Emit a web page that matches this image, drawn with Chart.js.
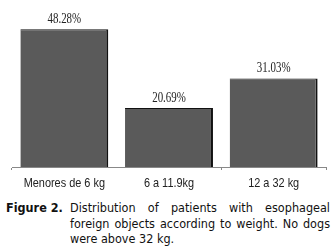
<!DOCTYPE html>
<html>
<head>
<meta charset="utf-8">
<script src="https://cdn.jsdelivr.net/npm/chart.js@4"></script>
<style>
  body { margin: 0; background: #fff; width: 335px; height: 250px; overflow: hidden; position: relative; }
  #wrap { position: absolute; left: 0; top: 0; width: 335px; height: 200px; }
  #caption { position: absolute; left: 6px; top: 200px; width: 324px; font-family: "DejaVu Sans Condensed", "DejaVu Sans", sans-serif; font-size: 12.5px; line-height: 15.5px; color: #111; }
  #caption .fig { position: absolute; left: 0; top: 0; font-weight: bold; }
  #caption .txt { margin-left: 64px; }
  #caption .line { text-align: justify; text-align-last: justify; white-space: nowrap; }
  #caption .last { text-align: left; }
</style>
</head>
<body>
<div id="wrap"><canvas id="chart" width="335" height="200"></canvas></div>
<div id="caption">
  <span class="fig">Figure 2.</span>
  <div class="txt">
    <div class="line">Distribution of patients with esophageal</div>
    <div class="line">foreign objects according to weight. No dogs</div>
    <div class="last">were above 32 kg.</div>
  </div>
</div>
<script>
// weight groups and share of patients (%)
const categories = ["Menores de 6 kg", "6 a 11.9kg", "12 a 32 kg"];
const percentValues = [48.28, 20.69, 31.03];
const valueLabels = ["48.28%", "20.69%", "31.03%"];

// squeezed text helper, the original uses narrow fonts
function narrowText(ctx, text, x, y, font, squeeze) {
  ctx.save();
  ctx.translate(x, y);
  ctx.scale(squeeze, 1);
  ctx.font = font;
  ctx.fillStyle = "#222";
  ctx.textAlign = "center";
  ctx.fillText(text, 0, 0);
  ctx.restore();
}

const labelPlugin = {
  id: "narrowLabels",
  afterDatasetsDraw(chart) {
    const ctx = chart.ctx;
    const xScale = chart.scales.x;
    // % labels above bars
    chart.getDatasetMeta(0).data.forEach((bar, i) => {
      ctx.textBaseline = "bottom";
      narrowText(ctx, valueLabels[i], bar.x, bar.y - 3, "14px 'Liberation Serif', serif", 0.78);
    });
    // category labels under the axis
    categories.forEach((cat, i) => {
      narrowText(ctx, cat, xScale.getPixelForValue(i), xScale.top + 23, "13px 'Liberation Sans', sans-serif", 0.84);
    });
  }
};

new Chart(document.getElementById("chart"), {
  type: "bar",
  data: {
    labels: categories,
    datasets: [{
      data: percentValues,
      backgroundColor: "#5a5a5a",
      borderColor: "#111",
      borderWidth: { top: 1, right: 2, left: 0, bottom: 0 },
      borderSkipped: false,
      categoryPercentage: 0.84,
      barPercentage: 1
    }]
  },
  options: {
    animation: false,
    responsive: false,
    layout: { padding: { left: 12, right: 9, top: 10, bottom: 0 } },
    plugins: {
      legend: { display: false },
      tooltip: { enabled: false }
    },
    scales: {
      x: {
        offset: true,
        grid: {
          offset: true,
          drawOnChartArea: false,
          tickLength: 3,
          tickColor: (c) => c.index === 1 ? "rgba(0,0,0,0)" : "#888"
        },
        border: { display: true, color: "#888", width: 1 },
        ticks: {
          color: "rgba(0,0,0,0)", // drawn squeezed by the plugin instead
          font: { size: 13 }
        },
        afterFit: (scale) => { scale.height = 33; }
      },
      y: {
        display: false,
        min: 0,
        max: 55
      }
    }
  },
  plugins: [labelPlugin]
});
</script>
</body>
</html>
